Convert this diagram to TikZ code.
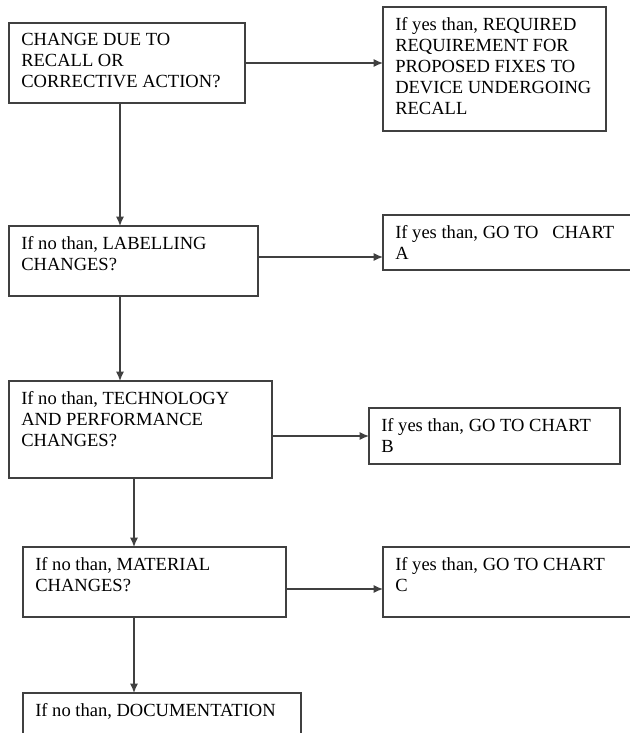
\documentclass[tikz,border=0pt]{standalone}
\usepackage{fontspec}
\setmainfont{Liberation Serif}
\usetikzlibrary{arrows.meta,calc}

\newdimen\px
\px=0.75pt

\tikzset{
  box/.style={draw=black!75, line width=0.9pt, anchor=north west, inner sep=0pt, outer sep=0pt},
  txt/.style={anchor=north west, align=left, inner sep=0pt, font=\fontsize{13.9}{15.8}\selectfont},
  link/.style={draw=black!75, line width=0.9pt, -{Latex[length=7pt,width=6pt]}}
}

\begin{document}
\begin{tikzpicture}[x=0.75pt, y=-0.75pt]
\clip (0,0) rectangle (630,733);

% left column: the questions
\node[box, minimum width=236\px, minimum height=80\px] (recall) at (9,23) {};
\node[box, minimum width=249\px, minimum height=70\px] (label) at (9,226) {};
\node[box, minimum width=263\px, minimum height=97\px] (tech) at (9,381) {};
\node[box, minimum width=263\px, minimum height=70\px] (mat) at (23,547) {};
\node[box, minimum width=278\px, minimum height=60\px] (doc) at (23,693) {};

% right column: the answers
\node[box, minimum width=223\px, minimum height=124\px] (fixes) at (383,7) {};
\node[box, minimum width=260\px, minimum height=55\px] (chartA) at (383,215) {};
\node[box, minimum width=251\px, minimum height=56\px] (chartB) at (369,408) {};
\node[box, minimum width=260\px, minimum height=70\px] (chartC) at (383,547) {};

% texts
\node[txt] (recall-t) at (21,33) {CHANGE DUE TO\\RECALL OR\\CORRECTIVE ACTION?};
\node[txt] (label-t) at (21,236) {If no than, LABELLING\\CHANGES?};
\node[txt] (tech-t) at (21,391) {If no than, TECHNOLOGY\\AND PERFORMANCE\\CHANGES?};
\node[txt] (mat-t) at (35,557) {If no than, MATERIAL\\CHANGES?};
\node[txt] (doc-t) at (35,703) {If no than, DOCUMENTATION};
\node[txt] (fixes-t) at (395,17) {If yes than, REQUIRED\\REQUIREMENT FOR\\PROPOSED FIXES TO\\DEVICE UNDERGOING\\RECALL};
\node[txt] (chartA-t) at (395,225) {If yes than, GO TO\hspace{0.75em}CHART\\A};
\node[txt] (chartB-t) at (381,418) {If yes than, GO TO CHART\\B};
\node[txt] (chartC-t) at (395,557) {If yes than, GO TO CHART\\C};

% connectors
\draw[link] (recall.east) -- (recall.east -| fixes.west);
\draw[link] ([xshift=-7\px]recall.south) -- ([xshift=-7\px]recall.south |- label.north);
\draw[link] ([yshift=4\px]label.east) -- ([yshift=4\px]label.east -| chartA.west);
\draw[link] ([xshift=-13.5\px]label.south) -- ([xshift=-13.5\px]label.south |- tech.north);
\draw[link] ([yshift=-6.5\px]tech.east) -- ([yshift=-6.5\px]tech.east -| chartB.west);
\draw[link] ([xshift=-6.5\px]tech.south) -- ([xshift=-6.5\px]tech.south |- mat.north);
\draw[link] ([yshift=-7\px]mat.east) -- ([yshift=-7\px]mat.east -| chartC.west);
\draw[link] ([xshift=-20.5\px]mat.south) -- ([xshift=-20.5\px]mat.south |- doc.north);
\end{tikzpicture}
\end{document}
